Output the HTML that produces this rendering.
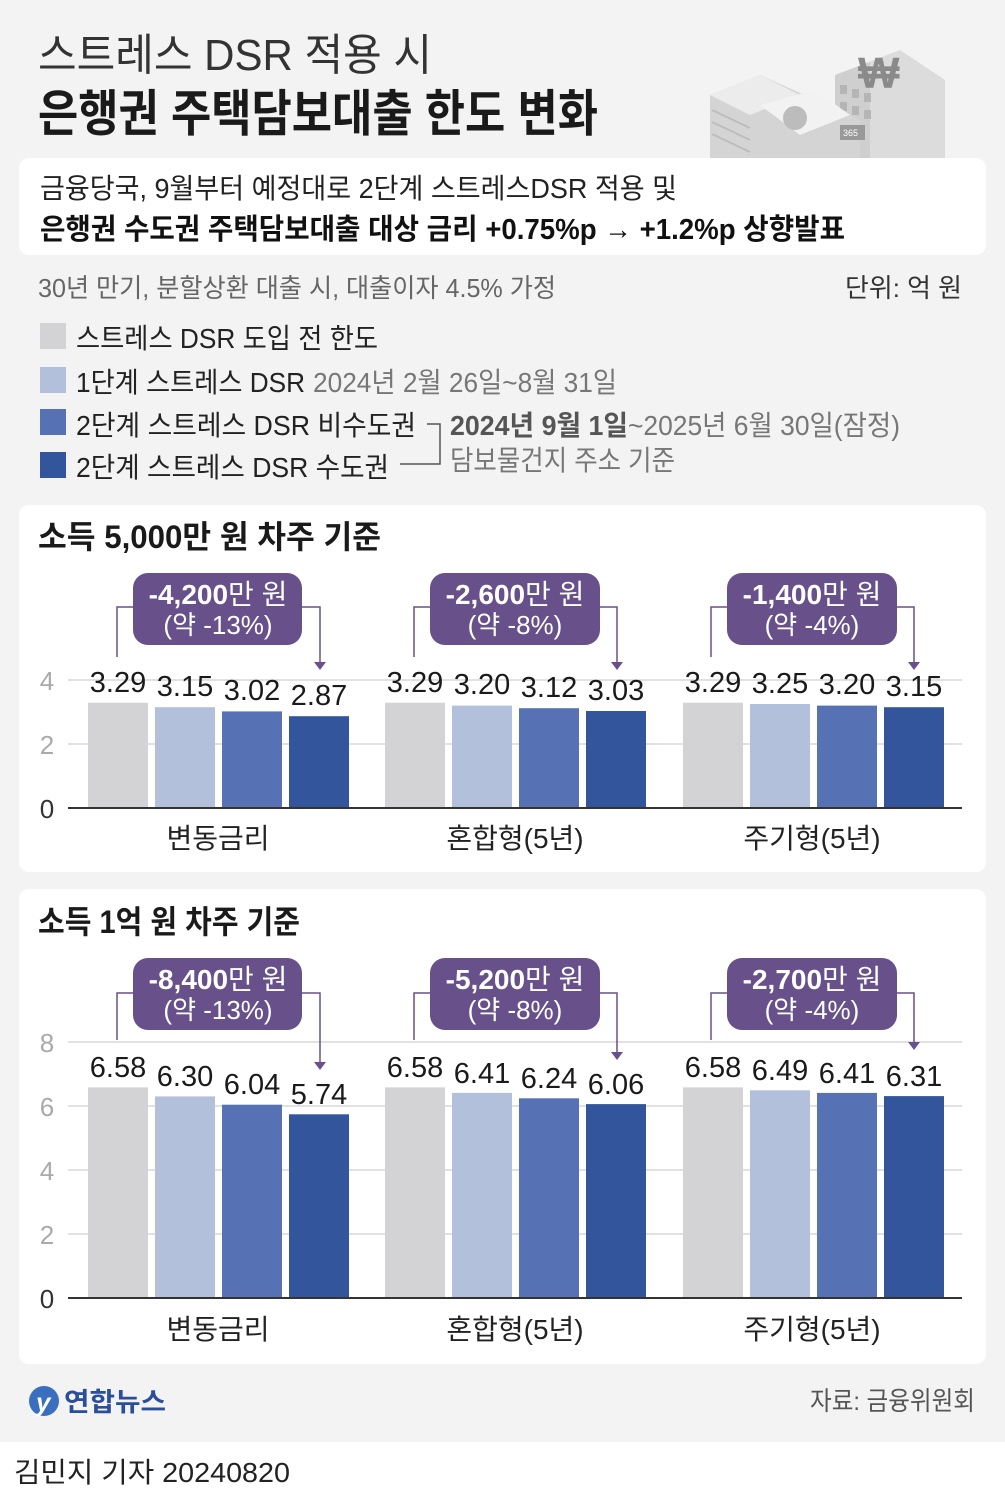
<!DOCTYPE html>
<html><head><meta charset="utf-8"><style>
html,body{margin:0;padding:0;background:#f3f3f3}
svg{display:block}
text{font-family:"Liberation Sans","Noto Sans CJK KR",sans-serif}
</style></head><body>
<svg width="1005" height="1504" viewBox="0 0 1005 1504" xmlns="http://www.w3.org/2000/svg">
<rect width="1005" height="1504" fill="#f3f3f3"/>
<rect y="1442" width="1005" height="62" fill="#fff"/>
<!-- illustration -->
<g>
<polygon points="835,75 900,50 945,80 945,158 835,158" fill="#dcdcdc"/>
<polygon points="835,75 870,62 870,158 835,158" fill="#cfcfcf"/>
<g fill="#b5b5b5"><rect x="840" y="85" width="7" height="9"/><rect x="852" y="89" width="7" height="9"/><rect x="864" y="93" width="7" height="9"/><rect x="840" y="102" width="7" height="9"/><rect x="852" y="106" width="7" height="9"/><rect x="864" y="110" width="7" height="9"/><rect x="840" y="119" width="7" height="9"/><rect x="852" y="123" width="7" height="9"/></g>
<text x="858" y="88" font-size="44" font-weight="bold" fill="#8a8a8a">₩</text>
<polygon points="710,95 760,75 860,120 860,158 710,158" fill="#d4d4d4"/>
<polygon points="710,95 760,75 800,95 750,115" fill="#ececec"/>
<polygon points="760,105 815,90 850,115 800,135" fill="#f2f2f2"/>
<circle cx="795" cy="118" r="12" fill="#bcbcbc"/>
<rect x="840" y="125" width="25" height="15" fill="#999"/>
<text x="843" y="136" font-size="9" fill="#fff">365</text>
<g stroke="#bdbdbd" stroke-width="2"><line x1="712" y1="110" x2="750" y2="128"/><line x1="712" y1="122" x2="750" y2="140"/><line x1="712" y1="134" x2="750" y2="152"/></g>
</g>
<text x="38" y="70" font-size="44" fill="#333" textLength="394" lengthAdjust="spacingAndGlyphs">스트레스 DSR 적용 시</text>
<text x="38" y="131" font-size="50" font-weight="bold" fill="#1a1a1a" textLength="560" lengthAdjust="spacingAndGlyphs">은행권 주택담보대출 한도 변화</text>
<rect x="19" y="158" width="967" height="97" rx="10" fill="#fff"/>
<text x="40" y="198" font-size="28" fill="#222" textLength="637" lengthAdjust="spacingAndGlyphs">금융당국, 9월부터 예정대로 2단계 스트레스DSR 적용 및</text>
<text x="40" y="239" font-size="29" font-weight="bold" fill="#111" textLength="805" lengthAdjust="spacingAndGlyphs">은행권 수도권 주택담보대출 대상 금리 +0.75%p → +1.2%p 상향발표</text>
<text x="38" y="297" font-size="26" fill="#666" textLength="518" lengthAdjust="spacingAndGlyphs">30년 만기, 분할상환 대출 시, 대출이자 4.5% 가정</text>
<text x="845" y="297" font-size="26" fill="#333" textLength="117" lengthAdjust="spacingAndGlyphs">단위: 억 원</text>
<!-- legend -->
<rect x="40" y="323" width="26" height="26" fill="#d3d3d5"/>
<rect x="40" y="367" width="26" height="26" fill="#b3c0dc"/>
<rect x="40" y="409" width="26" height="26" fill="#5672b4"/>
<rect x="40" y="452" width="26" height="26" fill="#33559c"/>
<text x="76" y="348" font-size="28" fill="#222" textLength="302" lengthAdjust="spacingAndGlyphs">스트레스 DSR 도입 전 한도</text>
<text x="76" y="392" font-size="28" fill="#222" textLength="229" lengthAdjust="spacingAndGlyphs">1단계 스트레스 DSR</text>
<text x="313" y="392" font-size="28" fill="#777" textLength="304" lengthAdjust="spacingAndGlyphs">2024년 2월 26일~8월 31일</text>
<text x="76" y="435" font-size="28" fill="#222" textLength="340" lengthAdjust="spacingAndGlyphs">2단계 스트레스 DSR 비수도권</text>
<text x="76" y="477" font-size="28" fill="#222" textLength="313" lengthAdjust="spacingAndGlyphs">2단계 스트레스 DSR 수도권</text>
<path d="M427,424 H440 V464 H400" fill="none" stroke="#555" stroke-width="1.5"/>
<text x="450" y="435" font-size="28" font-weight="bold" fill="#555" textLength="178" lengthAdjust="spacingAndGlyphs">2024년 9월 1일</text>
<text x="628" y="435" font-size="28" fill="#777" textLength="272" lengthAdjust="spacingAndGlyphs">~2025년 6월 30일(잠정)</text>
<text x="450" y="470" font-size="28" fill="#777" textLength="225" lengthAdjust="spacingAndGlyphs">담보물건지 주소 기준</text>

<!-- chart 1 -->
<rect x="19" y="505" width="967" height="367" rx="10" fill="#fff"/>
<text x="38" y="548" font-size="32" font-weight="bold" fill="#1a1a1a" textLength="343" lengthAdjust="spacingAndGlyphs">소득 5,000만 원 차주 기준</text>
<g stroke="#cfcfcf" stroke-width="1.3"><line x1="68" y1="680" x2="962" y2="680"/><line x1="68" y1="744" x2="962" y2="744"/></g>
<g font-size="26" fill="#aaa" text-anchor="middle"><text x="47" y="690">4</text><text x="47" y="754">2</text><text x="47" y="818" fill="#333">0</text></g>
<g>
<rect x="88" y="702.7" width="60" height="105.3" fill="#d3d3d5"/><rect x="155" y="707.2" width="60" height="100.8" fill="#b3c0dc"/><rect x="222" y="711.4" width="60" height="96.6" fill="#5672b4"/><rect x="289" y="716.2" width="60" height="91.8" fill="#33559c"/>
<rect x="385" y="702.7" width="60" height="105.3" fill="#d3d3d5"/><rect x="452" y="705.6" width="60" height="102.4" fill="#b3c0dc"/><rect x="519" y="708.2" width="60" height="99.8" fill="#5672b4"/><rect x="586" y="711" width="60" height="97" fill="#33559c"/>
<rect x="683" y="702.7" width="60" height="105.3" fill="#d3d3d5"/><rect x="750" y="704" width="60" height="104" fill="#b3c0dc"/><rect x="817" y="705.6" width="60" height="102.4" fill="#5672b4"/><rect x="884" y="707.2" width="60" height="100.8" fill="#33559c"/>
</g>
<line x1="68" y1="808" x2="962" y2="808" stroke="#333" stroke-width="2"/>
<g font-size="29" fill="#1a1a1a" text-anchor="middle">
<text x="118" y="692">3.29</text><text x="185" y="696">3.15</text><text x="252" y="700">3.02</text><text x="319" y="705">2.87</text>
<text x="415" y="692">3.29</text><text x="482" y="694">3.20</text><text x="549" y="697">3.12</text><text x="616" y="700">3.03</text>
<text x="713" y="692">3.29</text><text x="780" y="693">3.25</text><text x="847" y="694">3.20</text><text x="914" y="696">3.15</text>
</g>
<g font-size="28" fill="#222" text-anchor="middle"><text x="218" y="848">변동금리</text><text x="515" y="848">혼합형(5년)</text><text x="812" y="848">주기형(5년)</text></g>
<g stroke="#68518a" stroke-width="1.5" fill="none">
<path d="M117,657 V607 H135 M300,607 H320 V664"/><path d="M414,657 V607 H432 M598,607 H617 V664"/><path d="M711,657 V607 H729 M895,607 H914 V664"/>
</g>
<g fill="#68518a"><polygon points="314,662 326,662 320,670"/><polygon points="611,662 623,662 617,670"/><polygon points="908,662 920,662 914,670"/>
<rect x="133" y="573" width="169" height="72" rx="15"/><rect x="430" y="573" width="170" height="72" rx="15"/><rect x="727" y="573" width="170" height="72" rx="15"/></g>
<g fill="#fff" text-anchor="middle">
<text x="218" y="604" font-size="28"><tspan font-weight="bold">-4,200</tspan>만 원</text><text x="218" y="634" font-size="26">(약 -13%)</text>
<text x="515" y="604" font-size="28"><tspan font-weight="bold">-2,600</tspan>만 원</text><text x="515" y="634" font-size="26">(약 -8%)</text>
<text x="812" y="604" font-size="28"><tspan font-weight="bold">-1,400</tspan>만 원</text><text x="812" y="634" font-size="26">(약 -4%)</text>
</g>

<!-- chart 2 -->
<rect x="19" y="889" width="967" height="475" rx="10" fill="#fff"/>
<text x="38" y="933" font-size="32" font-weight="bold" fill="#1a1a1a" textLength="262" lengthAdjust="spacingAndGlyphs">소득 1억 원 차주 기준</text>
<g stroke="#cfcfcf" stroke-width="1.3"><line x1="68" y1="1042" x2="962" y2="1042"/><line x1="68" y1="1106" x2="962" y2="1106"/><line x1="68" y1="1170" x2="962" y2="1170"/><line x1="68" y1="1234" x2="962" y2="1234"/></g>
<g font-size="26" fill="#aaa" text-anchor="middle"><text x="47" y="1052">8</text><text x="47" y="1116">6</text><text x="47" y="1180">4</text><text x="47" y="1244">2</text><text x="47" y="1308" fill="#333">0</text></g>
<g>
<rect x="88" y="1087.4" width="60" height="210.6" fill="#d3d3d5"/><rect x="155" y="1096.4" width="60" height="201.6" fill="#b3c0dc"/><rect x="222" y="1104.7" width="60" height="193.3" fill="#5672b4"/><rect x="289" y="1114.3" width="60" height="183.7" fill="#33559c"/>
<rect x="385" y="1087.4" width="60" height="210.6" fill="#d3d3d5"/><rect x="452" y="1092.9" width="60" height="205.1" fill="#b3c0dc"/><rect x="519" y="1098.3" width="60" height="199.7" fill="#5672b4"/><rect x="586" y="1104.1" width="60" height="193.9" fill="#33559c"/>
<rect x="683" y="1087.4" width="60" height="210.6" fill="#d3d3d5"/><rect x="750" y="1090.3" width="60" height="207.7" fill="#b3c0dc"/><rect x="817" y="1092.9" width="60" height="205.1" fill="#5672b4"/><rect x="884" y="1096.1" width="60" height="201.9" fill="#33559c"/>
</g>
<line x1="68" y1="1298" x2="962" y2="1298" stroke="#333" stroke-width="2"/>
<g font-size="29" fill="#1a1a1a" text-anchor="middle">
<text x="118" y="1077">6.58</text><text x="185" y="1086">6.30</text><text x="252" y="1094">6.04</text><text x="319" y="1104">5.74</text>
<text x="415" y="1077">6.58</text><text x="482" y="1083">6.41</text><text x="549" y="1088">6.24</text><text x="616" y="1094">6.06</text>
<text x="713" y="1077">6.58</text><text x="780" y="1080">6.49</text><text x="847" y="1083">6.41</text><text x="914" y="1086">6.31</text>
</g>
<g font-size="28" fill="#222" text-anchor="middle"><text x="218" y="1339">변동금리</text><text x="515" y="1339">혼합형(5년)</text><text x="812" y="1339">주기형(5년)</text></g>
<g stroke="#68518a" stroke-width="1.5" fill="none">
<path d="M117,1040 V993 H135 M300,993 H320 V1064"/><path d="M414,1040 V993 H432 M598,993 H617 V1054"/><path d="M711,1040 V993 H729 M895,993 H914 V1044"/>
</g>
<g fill="#68518a"><polygon points="314,1062 326,1062 320,1070"/><polygon points="611,1052 623,1052 617,1060"/><polygon points="908,1042 920,1042 914,1050"/>
<rect x="133" y="958" width="169" height="72" rx="15"/><rect x="430" y="958" width="170" height="72" rx="15"/><rect x="727" y="958" width="170" height="72" rx="15"/></g>
<g fill="#fff" text-anchor="middle">
<text x="218" y="989" font-size="28"><tspan font-weight="bold">-8,400</tspan>만 원</text><text x="218" y="1019" font-size="26">(약 -13%)</text>
<text x="515" y="989" font-size="28"><tspan font-weight="bold">-5,200</tspan>만 원</text><text x="515" y="1019" font-size="26">(약 -8%)</text>
<text x="812" y="989" font-size="28"><tspan font-weight="bold">-2,700</tspan>만 원</text><text x="812" y="1019" font-size="26">(약 -4%)</text>
</g>

<!-- footer -->
<circle cx="44" cy="1401" r="15" fill="#3a6fc0"/>
<text x="36" y="1411" font-size="26" font-style="italic" font-weight="bold" fill="#fff">y</text>
<text x="64" y="1411" font-size="26" font-weight="bold" fill="#2a4f9a" textLength="102" lengthAdjust="spacingAndGlyphs">연합뉴스</text>
<text x="810" y="1410" font-size="26" fill="#555" textLength="165" lengthAdjust="spacingAndGlyphs">자료: 금융위원회</text>
<text x="14" y="1482" font-size="28" fill="#222" textLength="276" lengthAdjust="spacingAndGlyphs">김민지 기자  20240820</text>
</svg>
</body></html>
